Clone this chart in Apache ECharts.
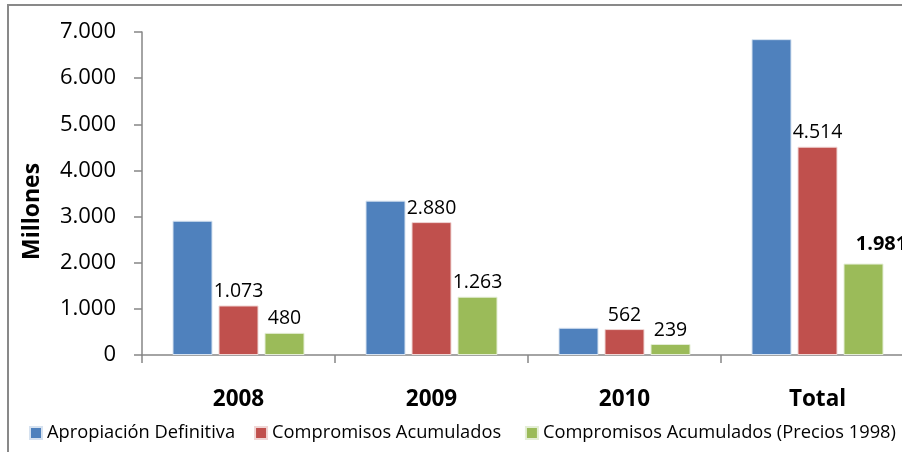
<!DOCTYPE html>
<html>
<head>
<meta charset="utf-8">
<script src="https://cdn.jsdelivr.net/npm/echarts@6/dist/echarts.min.js"></script>
<style>
html,body{margin:0;padding:0;background:#fff;}
#c{width:902px;height:452px;}
</style>
</head>
<body>
<div id="c"></div>
<script>
var categories = ['2008', '2009', '2010', 'Total'];
var seriesNames = ['Apropiación Definitiva', 'Compromisos Acumulados', 'Compromisos Acumulados (Precios 1998)'];
var apropiacion = [2910, 3345, 590, 6845];
var compromisos = [1073, 2880, 562, 4514];
var compromisos1998 = [480, 1263, 239, 1981];
var yTicks = [0, 1000, 2000, 3000, 4000, 5000, 6000, 7000];

function fmt(v) {
  var s = String(Math.round(v));
  return s.replace(/\B(?=(\d{3})+(?!\d))/g, '.');
}

var FONT = 'Open Sans';
var chart = echarts.init(document.getElementById('c'));
var labelStyle = {
  show: true, position: 'top', distance: 4, color: '#000',
  fontFamily: FONT, fontSize: 19.5,
  formatter: function (p) { return fmt(p.value); }
};

chart.setOption({
  animation: false,
  backgroundColor: '#fff',
  graphic: [{
    type: 'rect', silent: true, z: -1,
    shape: { x: 8, y: 5, width: 1100, height: 1100 },
    style: { fill: 'none', stroke: '#898989', lineWidth: 2 }
  }],
  color: ['#4F81BD', '#C0504D', '#9BBB59'],
  grid: { left: 142, top: 32, width: 772, height: 323, containLabel: false, outerBoundsMode: 'none' },
  legend: {
    left: 29, top: 424, padding: 0, itemWidth: 12, itemHeight: 12, itemGap: 19,
    icon: 'rect',
    textStyle: {
      fontFamily: FONT, fontSize: 18.3, color: '#000',
      rich: {
        t: { fontFamily: FONT, fontSize: 18.3, color: '#000' },
        g: { width: 10, fontSize: 18.3 }
      }
    },
    formatter: function (name) {
      return name === seriesNames[1] ? '{t|' + name + '}{g| }' : name;
    },
    data: seriesNames
  },
  xAxis: {
    type: 'category', data: categories,
    axisLine: { lineStyle: { color: '#868686', width: 1.5 } },
    axisTick: { show: true, length: 8, lineStyle: { color: '#868686', width: 1.5 } },
    axisLabel: { margin: 33, color: '#000', fontFamily: FONT, fontSize: 22.5, fontWeight: 'bold' }
  },
  yAxis: {
    type: 'value', min: 0, max: 7000, interval: 1000,
    name: 'Millones', nameLocation: 'middle', nameGap: 98, nameRotate: 90,
    nameTextStyle: { color: '#000', fontFamily: FONT, fontSize: 23, fontWeight: 'bold', padding: [0, 36, 0, 0] },
    axisLine: { show: true, lineStyle: { color: '#868686', width: 1.5 } },
    axisTick: { show: true, length: 8, lineStyle: { color: '#868686', width: 1.5 } },
    splitLine: { show: false },
    axisLabel: {
      margin: 26, color: '#000', fontFamily: FONT, fontSize: 22,
      customValues: yTicks,
      formatter: function (v) { return fmt(v); }
    }
  },
  series: [
    {
      name: seriesNames[0], type: 'bar', data: apropiacion,
      barWidth: 40, barGap: '15%',
      itemStyle: { borderColor: '#d6e2f0', borderWidth: 1 }
    },
    {
      name: seriesNames[1], type: 'bar', data: compromisos,
      barWidth: 40, barGap: '15%',
      itemStyle: { borderColor: '#f0d6d5', borderWidth: 1 },
      label: labelStyle
    },
    {
      name: seriesNames[2], type: 'bar', barWidth: 40, barGap: '15%',
      itemStyle: { borderColor: '#e4eed6', borderWidth: 1 },
      label: labelStyle,
      data: compromisos1998.map(function (v, i) {
        if (i === categories.length - 1) {
          return { value: v, label: { fontWeight: 'bold', fontSize: 20, offset: [18, -5] } };
        }
        return v;
      })
    }
  ]
});
</script>
</body>
</html>
